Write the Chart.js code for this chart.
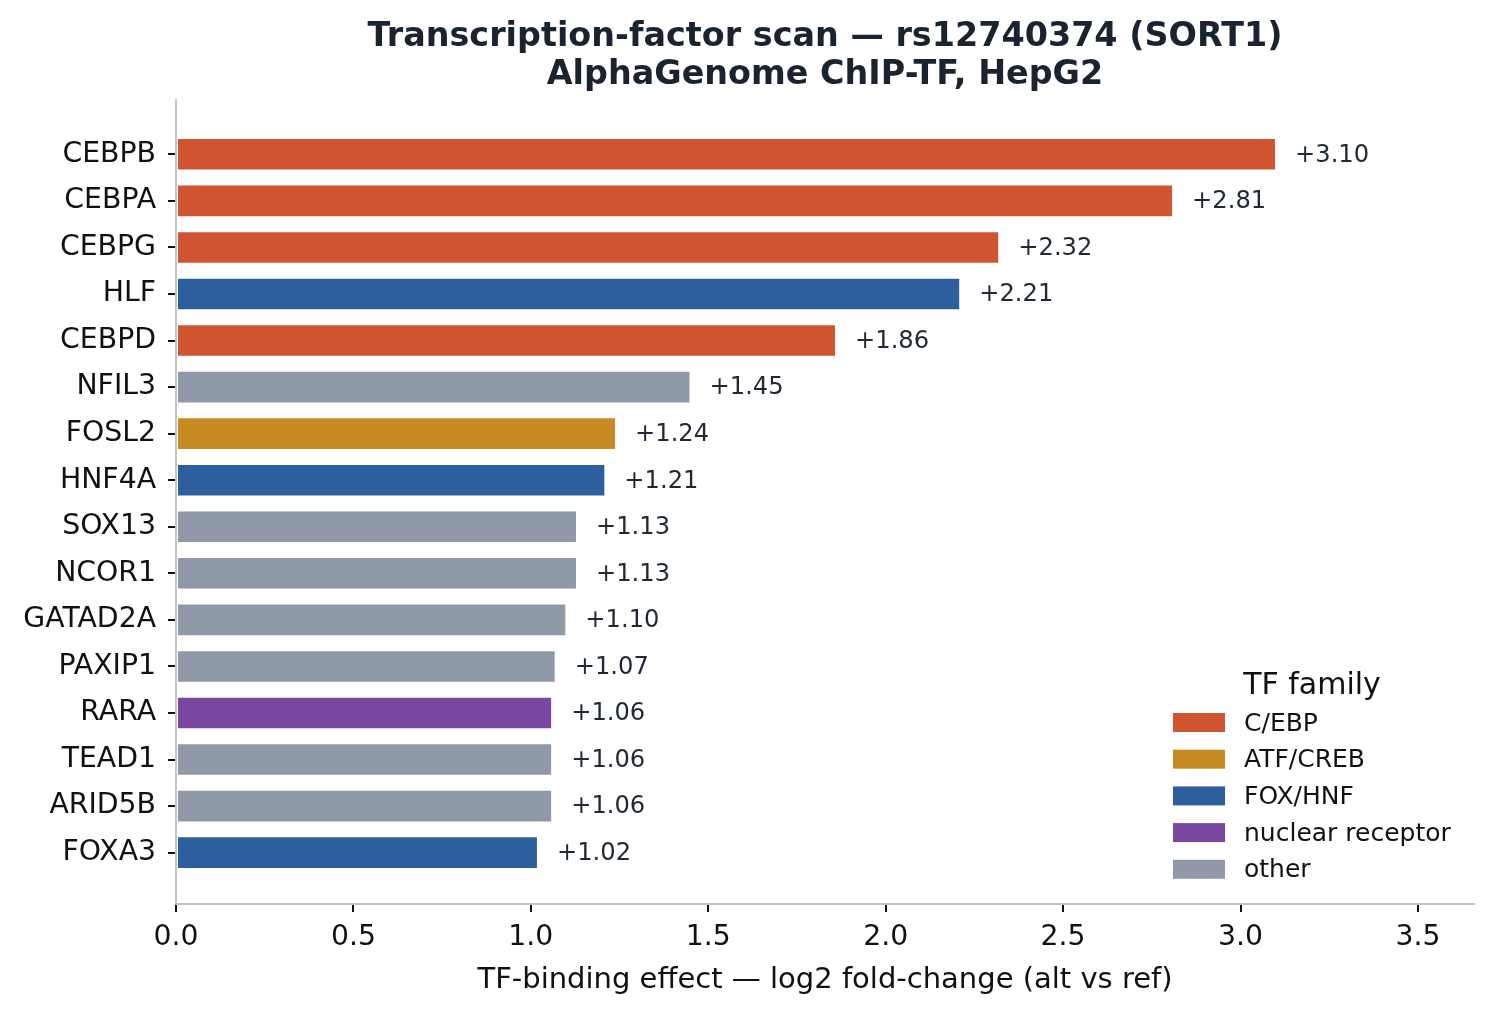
<!DOCTYPE html>
<html>
<head>
<meta charset="utf-8">
<script src="https://cdn.jsdelivr.net/npm/chart.js@4/dist/chart.umd.min.js"></script>
<style>
  body { margin: 0; background: #fff; }
  #wrap { width: 1494px; height: 1013px; }
</style>
</head>
<body>
<div id="wrap"><canvas id="myChart" width="1494" height="1013"></canvas></div>
<script>
//data
const genes = ["CEBPB", "CEBPA", "CEBPG", "HLF", "CEBPD", "NFIL3", "FOSL2", "HNF4A",
               "SOX13", "NCOR1", "GATAD2A", "PAXIP1", "RARA", "TEAD1", "ARID5B", "FOXA3"];
const effects = [3.10, 2.81, 2.32, 2.21, 1.86, 1.45, 1.24, 1.21,
                 1.13, 1.13, 1.10, 1.07, 1.06, 1.06, 1.06, 1.02];
const geneFamily = ["C/EBP", "C/EBP", "C/EBP", "FOX/HNF", "C/EBP", "other", "ATF/CREB", "FOX/HNF",
                    "other", "other", "other", "other", "nuclear receptor", "other", "other", "FOX/HNF"];
const families = ["C/EBP", "ATF/CREB", "FOX/HNF", "nuclear receptor", "other"];
const familyColors = ["#cf5530", "#c88a22", "#2d5f9f", "#7a47a0", "#8f99a8"];
const xTicks = [0, 0.5, 1.0, 1.5, 2.0, 2.5, 3.0, 3.5];
const titleLines = ["Transcription-factor scan \u2014 rs12740374 (SORT1)", "AlphaGenome ChIP-TF, HepG2"];

const FONT = "'DejaVu Sans', sans-serif";
const colorOf = (fam) => familyColors[families.indexOf(fam)];

//title centred over the plot area (not the whole canvas)
const plotTitle = {
    id: 'plotTitle',
    afterDraw(chart) {
        const ctx = chart.ctx;
        const area = chart.chartArea;
        const cx = (area.left + area.right) / 2;
        ctx.save();
        ctx.font = `bold 33.4px ${FONT}`;
        ctx.fillStyle = "#1a2330";
        ctx.textAlign = "center";
        ctx.textBaseline = "middle";
        ctx.fillText(titleLines[0], cx, 37);
        ctx.fillText(titleLines[1], cx, 75);
        ctx.restore();
    }
};

//value labels at bar ends
const valueLabels = {
    id: 'valueLabels',
    afterDatasetsDraw(chart) {
        const ctx = chart.ctx;
        const xs = chart.scales.x, ys = chart.scales.y;
        ctx.save();
        ctx.font = `24.2px ${FONT}`;
        ctx.fillStyle = "#1f2933";
        ctx.textAlign = "left";
        ctx.textBaseline = "middle";
        effects.forEach((v, i) => {
            ctx.fillText("+" + v.toFixed(2), xs.getPixelForValue(v) + 19, ys.getPixelForValue(i) + 1);
        });
        ctx.restore();
    }
};

//legend inside the plot, bottom right
const familyLegend = {
    id: 'familyLegend',
    afterDraw(chart) {
        const ctx = chart.ctx;
        ctx.save();
        ctx.fillStyle = "#111";
        ctx.font = `30px ${FONT}`;
        ctx.textAlign = "center";
        ctx.textBaseline = "middle";
        ctx.fillText("TF family", 1312, 686);
        ctx.font = `25px ${FONT}`;
        ctx.textAlign = "left";
        families.forEach((f, i) => {
            const y = 723 + i * 36.7;
            ctx.fillStyle = familyColors[i];
            ctx.fillRect(1173, y - 10, 52, 19);
            ctx.fillStyle = "#111";
            ctx.fillText(f, 1244, y + 1);
        });
        ctx.restore();
    }
};

const ctx = document.getElementById('myChart');
const myChart = new Chart(ctx, {
    type: 'bar',
    data: {
        datasets: [{
            data: effects.map((v, i) => ({ x: v, y: i })),
            backgroundColor: geneFamily.map(colorOf),
            borderColor: "#ffffff",
            borderWidth: 1,
            borderSkipped: false,
            categoryPercentage: 1.0,
            barPercentage: 0.7
        }]
    },
    options: {
        indexAxis: 'y',
        responsive: false,
        animation: false,
        devicePixelRatio: 1,
        layout: { padding: { left: 0, right: 20, top: 100, bottom: 0 } },
        plugins: {
            legend: { display: false },
            tooltip: { enabled: false },
            title: { display: false }
        },
        scales: {
            x: {
                type: 'linear',
                min: 0,
                max: 3.658,
                afterBuildTicks: (scale) => { scale.ticks = xTicks.map(v => ({ value: v })); },
                afterFit: (scale) => { scale.height = 109; },
                ticks: {
                    color: "#111",
                    font: { family: FONT, size: 28.3 },
                    padding: 9,
                    callback: (v) => Number(v).toFixed(1)
                },
                grid: { drawOnChartArea: false, color: "#111", lineWidth: 2, tickLength: 8 },
                border: { color: "#c4c4c4", width: 2 },
                title: {
                    display: true,
                    text: "TF-binding effect \u2014 log2 fold-change (alt vs ref)",
                    color: "#111",
                    font: { family: FONT, size: 29 },
                    padding: { top: 4, bottom: 15 }
                }
            },
            y: {
                type: 'linear',
                min: -1.167,
                max: 16.103,
                reverse: true,
                offset: false,
                afterBuildTicks: (scale) => { scale.ticks = genes.map((g, i) => ({ value: i })); },
                afterFit: (scale) => { scale.width = 176; },
                ticks: {
                    color: "#111",
                    font: { family: FONT, size: 28.3 },
                    padding: 12,
                    callback: (v) => genes[v]
                },
                grid: { offset: false, drawOnChartArea: false, color: "#111", lineWidth: 2, tickLength: 8 },
                border: { color: "#c4c4c4", width: 2 }
            }
        }
    },
    plugins: [valueLabels, familyLegend, plotTitle]
});
</script>
</body>
</html>
